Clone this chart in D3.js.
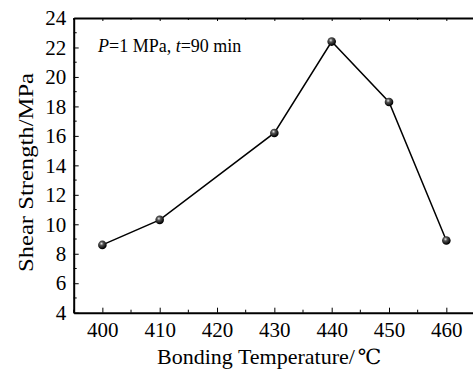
<!DOCTYPE html>
<html>
<head>
  <style>
    body { margin: 0; background: #fff; }
    svg text { font-family: "Liberation Serif", "Times New Roman", serif; fill: #000; }
  </style>
</head>
<body>
  <svg id="chart" width="473" height="369"></svg>
  <script src="https://d3js.org/d3.v7.min.js"></script>
  <script>
    const temps = [400, 410, 430, 440, 450, 460]
    const strength = [8.6, 10.3, 16.2, 22.4, 18.3, 8.9]
    const xTicks = [400, 410, 420, 430, 440, 450, 460]
    const yTicks = [4, 6, 8, 10, 12, 14, 16, 18, 20, 22, 24]

    const svg = d3.select('#chart')
    const x = d3.scaleLinear().domain([395, 465]).range([73.7, 475])
    const y = d3.scaleLinear().domain([4, 24]).range([312.7, 18])

    const defs = svg.append('defs')
    const grad = defs.append('radialGradient').attr('id', 'ball')
      .attr('cx', '40%').attr('cy', '35%').attr('r', '60%')
    grad.append('stop').attr('offset', '0%').attr('stop-color', '#e8e8e8')
    grad.append('stop').attr('offset', '35%').attr('stop-color', '#555')
    grad.append('stop').attr('offset', '100%').attr('stop-color', '#000')

    const minorX = d3.range(395, 466, 5).filter(v => v % 10 !== 0)
    const minorY = d3.range(5, 24, 2)

    // bottom axis
    const gx = svg.append('g').attr('transform', `translate(0,${y(4)})`)
    gx.call(d3.axisBottom(x).tickValues(xTicks).tickSize(-5).tickSizeOuter(0).tickPadding(9.5))
    gx.append('g').selectAll('line').data(minorX).join('line')
      .attr('x1', d => x(d)).attr('x2', d => x(d)).attr('y1', 0).attr('y2', -3)
      .attr('stroke', '#000')

    // top border
    const gt = svg.append('g').attr('transform', `translate(0,${y(24)})`)
    gt.call(d3.axisTop(x).tickValues(xTicks).tickSize(-3).tickSizeOuter(0).tickFormat(''))
    gt.append('g').selectAll('line').data(minorX).join('line')
      .attr('x1', d => x(d)).attr('x2', d => x(d)).attr('y1', 0).attr('y2', 2)
      .attr('stroke', '#000')

    // left axis
    const gy = svg.append('g').attr('transform', `translate(${x(395)},0)`)
    gy.call(d3.axisLeft(y).tickValues(yTicks).tickSize(-5).tickSizeOuter(0).tickPadding(7.5))
    gy.append('g').selectAll('line').data(minorY).join('line')
      .attr('y1', d => y(d)).attr('y2', d => y(d)).attr('x1', 0).attr('x2', 3)
      .attr('stroke', '#000')

    svg.selectAll('g').attr('font-family', null)
    svg.selectAll('.domain').attr('stroke', '#000').attr('stroke-width', 2)
    svg.selectAll('.tick line').attr('stroke', '#000')
    svg.selectAll('.tick text').style('font-size', '21px')

    const line = d3.line().x(d => x(d[0])).y(d => y(d[1]))
    const pts = temps.map((t, i) => [t, strength[i]])
    svg.append('path').datum(pts).attr('d', line)
      .attr('fill', 'none').attr('stroke', '#000').attr('stroke-width', 1.5)

    svg.selectAll('.pt').data(pts).join('circle').attr('class', 'pt')
      .attr('cx', d => x(d[0])).attr('cy', d => y(d[1])).attr('r', 4.3)
      .attr('fill', 'url(#ball)')

    const note = svg.append('text').attr('x', 98).attr('y', 52).style('font-size', '18px')
    note.append('tspan').style('font-style', 'italic').text('P')
    note.append('tspan').text('=1 MPa, ')
    note.append('tspan').style('font-style', 'italic').text('t')
    note.append('tspan').text('=90 min')

    const xl = svg.append('text').attr('x', 157).attr('y', 364)
      .style('font-size', '22px')
    xl.append('tspan').text('Bonding Temperature/')
    xl.append('tspan').attr('dx', 3).style('font-family', '"DejaVu Serif", serif').style('font-size', '21px').text('℃')

    svg.append('text').attr('transform', 'translate(33,172.5) rotate(-90) scale(1.12,1)')
      .attr('text-anchor', 'middle').style('font-size', '22px').text('Shear Strength/MPa')
  </script>
</body>
</html>
